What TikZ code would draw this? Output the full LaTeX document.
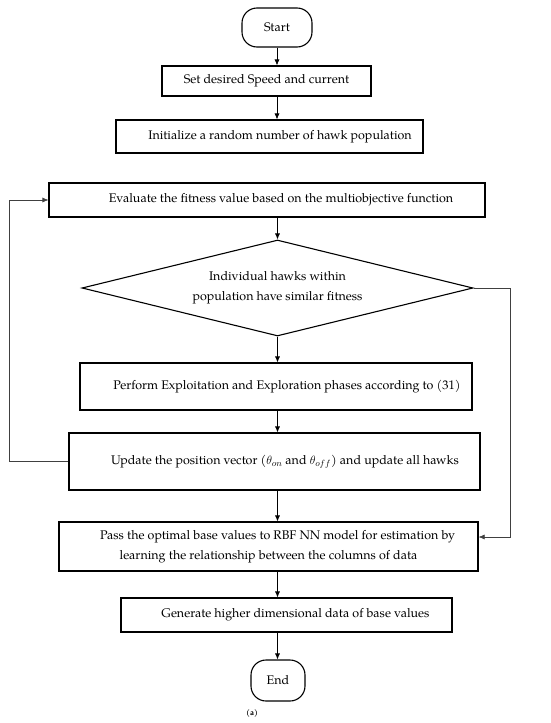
\documentclass[tikz,border=0pt]{standalone}
\usepackage{fontspec}
\setmainfont{TeX Gyre Pagella}
\usetikzlibrary{shapes.geometric,arrows.meta,calc}
\begin{document}
\begin{tikzpicture}[x=1pt,y=-1pt,
  box/.style={draw,line width=1.1pt,inner sep=0pt,font=\fontsize{12.5}{20}\selectfont},
  term/.style={draw,line width=1.1pt,rounded corners=15pt,inner sep=0pt,font=\fontsize{12.5}{14}\selectfont},
  dia/.style={draw,diamond,aspect=4.07,line width=1.1pt,inner sep=0pt,align=center,font=\fontsize{12.5}{20}\selectfont},
  conn/.style={-{Latex[length=6pt,width=5pt]},line width=0.7pt},
  back/.style={-{Latex[length=6pt,width=5pt]},line width=0.6pt,draw=black!75}]
\useasboundingbox (0,0) rectangle (550,723);
\node[term, minimum width=70pt, minimum height=39pt] (start) at (277,27.5) {Start};
\node[box, minimum width=209pt, minimum height=30pt] (set) at (266.5,81) {Set desired Speed and current};
\node[box, minimum width=307pt, minimum height=33pt] (init) at (269.5,136.5) {\hspace*{21pt}Initialize a random number of hawk population};
\node[box, minimum width=436pt, minimum height=34pt] (eval) at (267,200) {\hspace*{28pt}Evaluate the fitness value based on the multiobjective function};
\node[dia, minimum width=391pt, minimum height=96pt] (dec) at (277.5,288) {Individual hawks within\\population have similar fitness};
\node[box, minimum width=392pt, minimum height=47pt] (perf) at (276,386.5) {\hspace*{22pt}Perform Exploitation and Exploration phases according to (31)};
\node[box, minimum width=411pt, minimum height=57pt] (upd) at (274.5,461.5) {\hspace*{21pt}Update the position vector ($\theta_{on}$ and $\theta_{off}$) and update all hawks};
\node[box, minimum width=419pt, minimum height=49pt, align=center] (pass) at (268.5,546.5) {\hspace*{18pt}Pass the optimal base values to RBF NN model for estimation by\\learning the relationship between the columns of data};
\node[box, minimum width=331pt, minimum height=34pt] (gen) at (286.5,615) {\hspace*{18pt}Generate higher dimensional data of base values};
\node[term, minimum width=54pt, minimum height=41pt] (end) at (278,680.5) {End};
\node[font=\bfseries\fontsize{8}{9}\selectfont] (cap) at (252,713) {(a)};

\draw[conn] (start.south) -- (start.south |- set.north);
\draw[conn] (start.south |- set.south) -- (start.south |- init.north);
\draw[conn] (eval.south -| dec.north) -- (dec.north);
\draw[conn] (dec.south) -- (dec.south |- perf.north);
\draw[conn] (perf.south -| dec.south) -- (dec.south |- upd.north);
\draw[conn] (upd.south -| dec.south) -- (dec.south |- pass.north);
\draw[conn] (pass.south -| dec.south) -- (dec.south |- gen.north);
\draw[conn] (gen.south -| dec.south) -- (end.north -| dec.south);
\draw[back] (upd.west) -- ++(-59,0) |- (eval.west);
\draw[back] (dec.east) -- ++(37,0) |- ($(pass.east)+(0,-9.5)$);
\end{tikzpicture}
\end{document}
